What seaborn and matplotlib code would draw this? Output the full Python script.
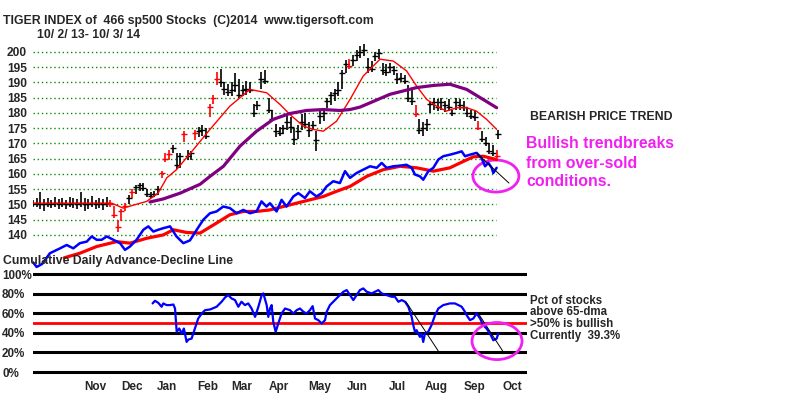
import numpy as np
import pandas as pd
import matplotlib
matplotlib.use('Agg')
import matplotlib.pyplot as plt
from matplotlib.patches import Ellipse
import seaborn as sns

sns.set_style('white')
plt.rcParams['font.family'] = ['Liberation Sans', 'DejaVu Sans']
plt.rcParams['font.weight'] = 'bold'

# ---- Daten (Handelstag-Index 0 = 2.10.2013) ----
bar_day = list(range(0, 253, 2)) + [253]
bar_high = [151.5, 152, 154, 151.8, 152, 151.5, 152.5, 151.8, 152.2, 151.6, 152.4, 152, 151.8, 154, 152,
            151.8, 152.6, 151.6, 152, 151.8, 152.4,
            151.5, 149.5, 145, 148.5, 150.5, 153, 155, 156.5, 157, 157, 155, 154, 154.5, 156,
            161, 167, 168, 169.6, 167, 167, 174, 168, 167.5, 174.5, 175.5, 176, 175,
            183, 186, 193.5, 194.3, 190, 189.5, 190, 193, 191, 189, 190.5, 190, 183, 184,
            193.5, 194, 185, 181, 176.5, 175.5, 176, 179, 178.5, 175, 176, 179.5, 180, 177,
            177.5, 174, 180.5, 181, 185, 187, 188, 190, 194, 197.5, 197.6, 199, 200.5, 202,
            202.5, 198, 197, 200, 201, 196.5, 196, 196.5, 195.5, 193, 193, 192.5, 189, 188,
            182.5, 178, 177, 178, 184, 185, 184.5, 185, 184, 184.5, 181, 185, 184.5, 184,
            182, 181, 180.5, 177.5, 174, 172, 170, 169.5, 168, 174.5]
bar_low = [149, 149.2, 148.5, 148, 149, 148.8, 149, 148.6, 149.2, 148.5, 149, 148.8, 148.6, 149, 147.8,
           148.5, 149.2, 148.4, 148.8, 148.2, 149,
           149, 145.5, 141, 144.5, 148, 150, 152, 153.5, 154.5, 154.5, 152.5, 152, 152.5, 153,
           158.7, 164, 164.5, 167, 161.5, 162, 170.5, 164.7, 164.5, 171, 172, 172.5, 171.3,
           178.5, 183, 189, 188.5, 186, 185.5, 185.5, 187, 184.8, 185.5, 186, 186.5, 178.5, 181,
           188, 189.5, 180, 177.5, 172, 172.5, 173, 174.5, 173.5, 169.6, 171.5, 174.5, 175, 172,
           174.5, 167.4, 176.5, 177.5, 181.5, 182.5, 184, 185.5, 188, 193, 194.5, 195.5, 197, 198,
           198.5, 193, 193.5, 197, 197.8, 192.5, 192, 193, 192.5, 189.5, 190, 189.5, 183.5, 182.5,
           178.8, 173, 172.5, 174, 180, 181, 180.5, 181, 180.2, 180.5, 179, 181, 181, 180.5,
           178.5, 178, 177.5, 174.5, 170.5, 169, 166.5, 166, 165.2, 171.5]
bar_close = [150.3, 150.5, 150.2, 150, 150.4, 150.1, 150.6, 150.2, 150.5, 150, 150.3, 150.4, 150.2, 150.5, 150,
             150.3, 150.4, 150.1, 150.5, 150.2, 150.4,
             150, 146.5, 142.5, 148, 149.5, 152, 154, 155.8, 156.3, 155.5, 153.5, 152.8, 153.5, 155,
             160.3, 165, 166.5, 168.5, 163, 166, 173, 166, 167, 173.5, 174, 174.5, 172.5,
             182, 185, 191, 190, 188, 187, 187.5, 189, 186, 187.5, 188, 187.5, 180, 182.5,
             191, 190.5, 181, 178, 174, 173.5, 175, 177, 175.5, 171.5, 174, 177, 176.5, 174.5,
             176, 171, 179, 180, 184, 186, 186.5, 187.5, 193, 196, 195.5, 197.5, 199, 200,
             200.5, 195, 194.5, 198.5, 199.5, 194, 193.5, 195, 194, 191, 191.5, 190.5, 185, 184,
             179.5, 174.5, 175, 176.5, 183, 183.5, 182, 183.5, 182.5, 182, 180, 183.5, 182.5, 182,
             180, 179, 178.5, 175, 171.5, 170, 167.5, 167, 166, 173]
red_days = [42, 44, 46, 48, 50, 54, 70, 72, 74, 82, 88, 96, 98, 100, 172, 208, 242, 252]

ma21_day = [0, 42.8, 49, 61.8, 68, 72.7, 78, 85.3, 96.2, 107, 117.9, 127, 134.2, 139.6, 146.9,
            152.3, 157.8, 165, 172.3, 179.5, 188.6, 195.8, 203, 208.5, 214, 219.4, 224.7, 230.3,
            235.7, 241, 246.5, 252]
ma21_val = [150.4, 150.4, 148.8, 151.0, 153.7, 158.7, 161.4, 166.6, 174.6, 182.2, 187.7, 186.6, 182.8,
            179.5, 175.7, 174.6, 174.0, 177.3, 184.4, 192.1, 197.6, 197.0, 193.8, 188.8, 184.4,
            182.2, 180.6, 181.7, 181.7, 180.6, 177.9, 174.6]

ma65_day = [63.6, 70.8, 80, 90.8, 96.2, 103.5, 112.5, 121.5, 130.6, 139.6, 148.7, 157.8, 166.8,
            172.3, 177.7, 183.2, 194, 208.5, 217.6, 226.6, 235.7, 244.7, 252]
ma65_val = [150.8, 151.8, 153.7, 156.6, 159.2, 162.5, 169.1, 174.0, 177.9, 179.8, 180.8, 181.1, 180.8,
            181.1, 181.9, 183.3, 186.1, 188.3, 189.0, 189.4, 187.7, 184.4, 181.7]

ad_day = [0, 2, 5, 9.2, 14.7, 18.3, 21.9, 25.5, 29.2, 31.9, 34.6, 37.3, 40.1, 43.7, 47.3, 50, 52.7,
          56.3, 60, 62.7, 65.4, 68.1, 70.8, 74.5, 78, 81.7, 85.3, 89, 92.6, 96.2, 99.8, 103.4, 107,
          110.7, 114.3, 117.9, 121.5, 124.2, 126.9, 128.8, 132.4, 135.1, 137.8, 141.5, 144.2, 147.8,
          150.5, 154.1, 156.9, 159.6, 163.2, 166.8, 169.6, 172.3, 175.9, 179.5, 183.2, 186.8, 189.5,
          192.2, 195.8, 199.5, 203, 205.8, 207.6, 210.3, 212.1, 214.9, 217.6, 220.3, 223, 226.6,
          230.3, 233, 234.8, 237.5, 241.1, 243.8, 245.7, 247.5, 249.3, 250.2, 252]
ad_val = [131, 129.5, 130.5, 134, 135.6, 136.7, 135.6, 137.3, 137.8, 139.5, 138.4, 138.4, 139.5, 138.4,
          137.3, 135.1, 136.2, 138.4, 141.7, 142.8, 141.1, 141.7, 142.2, 142.8, 139.5, 137.3, 138.2,
          141.7, 145, 147.1, 147.7, 149.3, 148.8, 147.1, 148.2, 147.1, 147.7, 151, 149.3, 150.4,
          147.7, 151.5, 149.3, 152.6, 153.7, 152.1, 154.3, 152.6, 153.7, 155.9, 157.6, 157, 160.9,
          158.7, 160.3, 161.4, 162.5, 162, 163.6, 162, 162.5, 162.7, 163, 162, 159.8, 159.2, 158.1,
          160.9, 162, 164.7, 165.8, 166.3, 166.9, 167.4, 165.8, 166.3, 166.9, 165.2, 162.5, 163.6,
          162, 160.3, 162]

ad_ma_day = [17, 25.5, 34.6, 45.5, 52.7, 61.8, 70.8, 76.3, 83.5, 90.8, 99.8, 107, 114.3, 121.5, 128.8,
             136, 143.2, 150.5, 157.8, 165, 172.3, 181.4, 190.4, 199.5, 208.5, 217.6, 226.6, 233.9,
             239.3, 244.7, 252]
ad_ma_val = [132.5, 134, 136.2, 137.8, 137.3, 138.9, 140, 141.7, 140.8, 140.6, 143.9, 146.6, 147.7,
             147.7, 148.2, 149.3, 150.4, 151.5, 152.6, 154.3, 155.9, 159.2, 161.4, 162.5, 162, 160.9,
             162, 164.1, 165.6, 165.8, 164.7]

pct_day = [65, 66.3, 68.1, 69.9, 70.8, 72.6, 74.5, 76.3, 77.2, 78.1, 79.5, 80.8, 82, 83.5, 84.4, 86.2,
           88, 89.8, 91.7, 93.5, 96.2, 99.8, 102.5, 104.4, 106.1, 107.9, 109.8, 111.6, 113.3, 115.2,
           117, 118.8, 120.7, 122.5, 124.3, 125.2, 127, 127.9, 128.8, 129.7, 130.6, 131.9, 133.3,
           135.1, 137, 139.7, 141.5, 143.3, 145.1, 147, 148.7, 150.5, 152, 153.3, 155.1, 156.9,
           158.7, 159.6, 161.4, 164.1, 166.8, 168.7, 170.5, 172.3, 174.1, 175.9, 177.7, 179.5, 181.4,
           184.1, 185.9, 187.7, 189.5, 192.2, 194.9, 196.7, 198.6, 200.4, 202.2, 204, 205.8, 206.7,
           207.6, 208.5, 209.4, 210.3, 211.2, 212.1, 213, 214.8, 216.6, 218.5, 220.3, 223, 226.6,
           229.3, 231.2, 233, 234.8, 235.7, 237.5, 239.3, 241.1, 243, 244.7, 246.5, 248.4, 250.2,
           252, 252.9]
pct_val = [70, 72.7, 70.6, 66.6, 70, 68.3, 68.3, 68.9, 64.8, 41, 44.4, 39.2, 44.4, 30.7, 33.1, 34.1,
           44.4, 54.6, 59.7, 63.1, 63.8, 66.6, 71.7, 76.1, 78.5, 75.1, 73.4, 66.6, 71.7, 68.3, 70,
           64.8, 56.3, 66.6, 78.5, 80.2, 68.3, 56.3, 64.8, 68.3, 51.2, 41, 49.5, 59.7, 64.8, 63.1,
           59.7, 63.1, 64.8, 61.4, 59.7, 63.1, 67.2, 54.6, 52.9, 49.5, 52.9, 61.4, 68.3, 73.4, 78.5,
           81.9, 83.6, 78.5, 73.4, 78.5, 83.6, 85.3, 81.9, 80.2, 81.9, 83.6, 80.2, 78.5, 76.8, 76.8,
           71.7, 73.4, 71.7, 66.6, 56.3, 47.8, 41, 42.7, 39.2, 35.8, 39.2, 30.7, 39.2, 41, 47.8, 58,
           64.8, 68.3, 70, 70, 68.3, 66.6, 61.4, 58, 52.9, 54.6, 59.7, 54.6, 47.8, 44.4, 39.2, 32.4,
           34.1, 39.2]

trend_top_day = [241.1, 258.7]
trend_top_val = [166.8, 157.0]
trend_pct_day = [[202.7, 220.3], [242.0, 255.3]]
trend_pct_val = [[71.7, 21.4], [59.9, 21.4]]

price_ticks = list(range(140, 201, 5))
pct_ticks = [0, 20, 40, 60, 80, 100]
pct_labels = ['0%', '20%', '40%', '60%', '80%', '100%']
month_labels = ['Nov', 'Dec', 'Jan', 'Feb', 'Mar', 'Apr', 'May', 'Jun', 'Jul', 'Aug', 'Sep', 'Oct']
month_pos = [33.7, 53.8, 72.8, 95.1, 113.6, 133.7, 156, 176.1, 197.8, 219, 240.2, 260.3]

bars = pd.DataFrame({'day': bar_day, 'high': bar_high, 'low': bar_low, 'close': bar_close})
bars['red'] = bars['day'].isin(red_days)

# ---- Figur ----
W, H = 800, 393
fig = plt.figure(figsize=(W / 100, H / 100), dpi=100)


def box(x0, y0, x1, y1):
    return [x0 / W, 1 - y1 / H, (x1 - x0) / W, (y1 - y0) / H]


ax = fig.add_axes(box(33, 40, 527, 270))
axb = fig.add_axes(box(33, 265, 527, 378))
for a in (ax, axb):
    a.set_facecolor('none')
    a.set_xlim(0, 268.5)
    sns.despine(ax=a, left=True, bottom=True)

ax.set_ylim(128.5, 203.9)
axb.set_ylim(-6.1, 109.2)

# Gitterlinien oben (gruen gepunktet)
for v in price_ticks:
    ax.axhline(v, xmin=0, xmax=0.937, color='#0a8a0a', ls=(0, (1, 2)), lw=1, zorder=0)

# Kursbalken
for is_red, grp in bars.groupby('red'):
    c = 'red' if is_red else 'black'
    ax.vlines(grp['day'], grp['low'], grp['high'], color=c, lw=1.2)
    ax.plot(grp['day'], grp['close'], ls='none', marker='_', ms=4, mew=1, color=c)

sns.lineplot(x=ma21_day, y=ma21_val, ax=ax, color='red', lw=1, estimator=None, sort=False)
sns.lineplot(x=ma65_day, y=ma65_val, ax=ax, color='#800080', lw=2.3, estimator=None, sort=False)
sns.lineplot(x=ad_ma_day, y=ad_ma_val, ax=ax, color='red', lw=2.3, estimator=None, sort=False)
sns.lineplot(x=ad_day, y=ad_val, ax=ax, color='#0000ff', lw=1.8, estimator=None, sort=False)
ax.plot(trend_top_day, trend_top_val, color='black', lw=0.7)
ax.add_patch(Ellipse((251.6, 159.3), 25, 10.5, fill=False, ec='#f020f0', lw=2))

ax.set_yticks(price_ticks)
ax.set_yticklabels([str(v) for v in price_ticks])
ax.set_xticks([])
ax.tick_params(axis='y', length=0, pad=4.3, labelsize=8.6)
ax.set_xlabel('')
ax.set_ylabel('')

# unteres Panel
for v in pct_ticks:
    axb.axhline(v, color='black', lw=2.2, zorder=1)
axb.axhline(50, color='red', lw=2, zorder=1)
sns.lineplot(x=pct_day, y=pct_val, ax=axb, color='#0000ff', lw=1.6, estimator=None, sort=False, zorder=3)
for dd, vv in zip(trend_pct_day, trend_pct_val):
    axb.plot(dd, vv, color='black', lw=0.7, zorder=4)
axb.add_patch(Ellipse((252.2, 31.6), 27.2, 37.8, fill=False, ec='#f020f0', lw=2, zorder=5))

axb.set_yticks(pct_ticks)
axb.set_yticklabels(pct_labels)
axb.tick_params(axis='y', length=0, pad=22.3, labelsize=8.4)
for t in axb.get_yticklabels():
    t.set_ha('left')
axb.set_xticks(month_pos)
axb.set_xticklabels(month_labels)
axb.tick_params(axis='x', length=0, pad=2, labelsize=8.5)
axb.set_xlabel('')
axb.set_ylabel('')


def ftext(x, y, s, **kw):
    fig.text(x / W, 1 - y / H, s, va='center', ha='left', fontweight='bold', **kw)


ftext(3, 21, 'TIGER INDEX of  466 sp500 Stocks  (C)2014  www.tigersoft.com', fontsize=8.8)
ftext(37, 34.5, '10/ 2/ 13- 10/ 3/ 14', fontsize=8.8)
ftext(3, 261, 'Cumulative Daily Advance-Decline Line', fontsize=8.8)
ftext(530, 117, 'BEARISH PRICE TREND', fontsize=8.8)
ftext(526, 143.5, 'Bullish trendbreaks', fontsize=11.4, color='#f020f0')
ftext(526, 163.5, 'from over-sold', fontsize=11.4, color='#f020f0')
ftext(526, 181.5, 'conditions.', fontsize=11.4, color='#f020f0')
ftext(530, 300.7, 'Pct of stocks', fontsize=8.3)
ftext(530, 312.3, 'above 65-dma', fontsize=8.3)
ftext(530, 323.7, '>50% is bullish', fontsize=8.3)
ftext(530, 336, 'Currently  39.3%', fontsize=8.3)

fig.savefig('out.png', dpi=100, facecolor='white')
